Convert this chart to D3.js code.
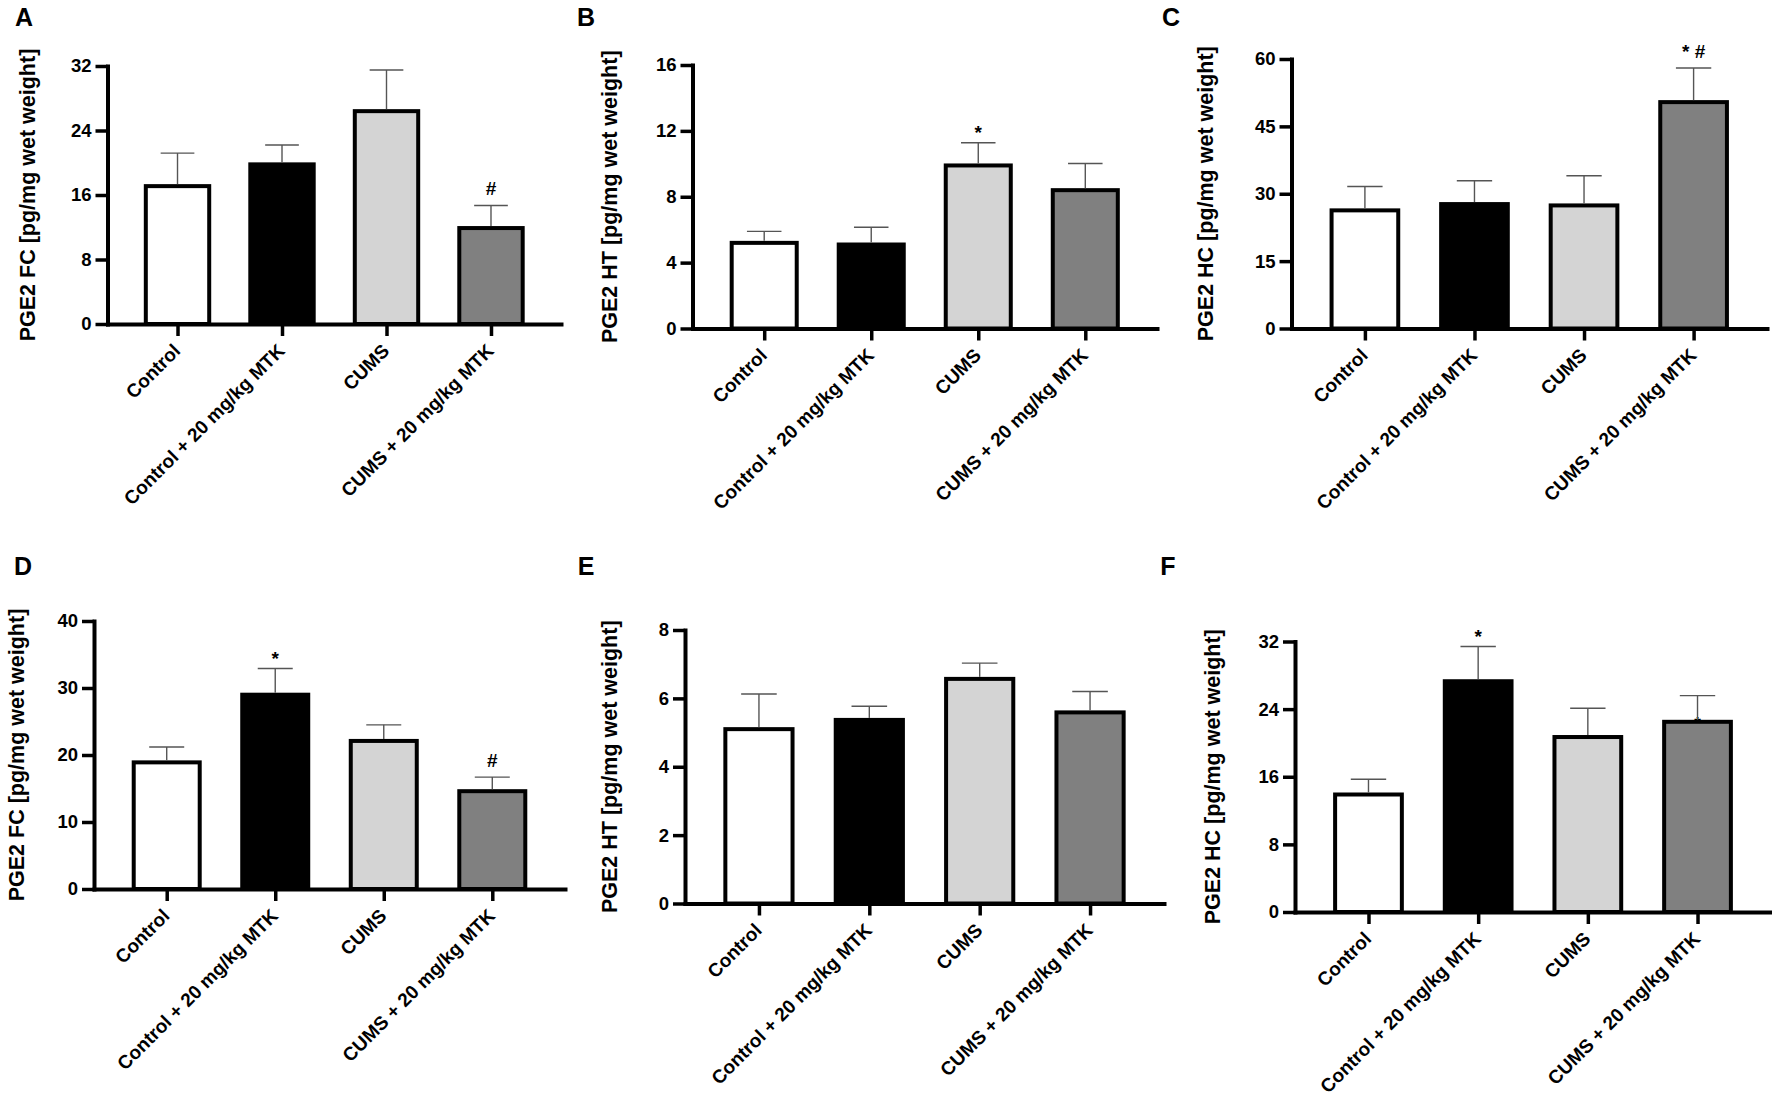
<!DOCTYPE html>
<html>
<head>
<meta charset="utf-8">
<title>PGE2 levels</title>
<script src="https://cdn.jsdelivr.net/npm/d3@7"></script>
<style>
body { margin: 0; background: #fff; }
svg { display: block; font-family: "Liberation Sans", Arial, Helvetica, sans-serif; font-weight: bold; }
</style>
</head>
<body>
<svg id="fig" width="1772" height="1107"></svg>
<script>
// groups on the x axis, same for every panel
var groups = ['Control', 'Control + 20 mg/kg MTK', 'CUMS', 'CUMS + 20 mg/kg MTK'];

// top row: A (FC), B (HT), C (HC)
var meanA = [17.1, 19.8, 26.4, 11.9];
var semA  = [4.1, 2.4, 5.1, 2.8];
var ticksA = [0, 8, 16, 24, 32];
var marksA = ['', '', '', '#'];

var meanB = [5.2, 5.1, 9.9, 8.4];
var semB  = [0.7, 1.05, 1.38, 1.62];
var ticksB = [0, 4, 8, 12, 16];
var marksB = ['', '', '*', ''];

var meanC = [26.3, 27.7, 27.4, 50.4];
var semC  = [5.3, 5.2, 6.6, 7.6];
var ticksC = [0, 15, 30, 45, 60];
var marksC = ['', '', '', '* #'];

// bottom row: D (FC), E (HT), F (HC)
var meanD = [18.9, 29.0, 22.1, 14.6];
var semD  = [2.3, 3.9, 2.4, 2.1];
var ticksD = [0, 10, 20, 30, 40];
var marksD = ['', '*', '', '#'];

var meanE = [5.1, 5.37, 6.57, 5.59];
var semE  = [1.03, 0.4, 0.46, 0.61];
var ticksE = [0, 2, 4, 6, 8];
var marksE = ['', '', '', ''];

var meanF = [13.9, 27.3, 20.7, 22.5];
var semF  = [1.8, 4.1, 3.4, 3.1];
var ticksF = [0, 8, 16, 24, 32];
var marksF = ['', '*', '', ''];
var hiddenF = ['', '', '', '*']; // star half covered by the bar top

var letters = ['A', 'B', 'C', 'D', 'E', 'F'];
var yTitles = ['PGE2 FC [pg/mg wet weight]', 'PGE2 HT [pg/mg wet weight]', 'PGE2 HC [pg/mg wet weight]',
               'PGE2 FC [pg/mg wet weight]', 'PGE2 HT [pg/mg wet weight]', 'PGE2 HC [pg/mg wet weight]'];

var fills = ['#ffffff', '#000000', '#d4d4d4', '#808080'];

// where each panel sits on the page
var layout = [
  { x0: 107.5, x1: 561,  yTop: 66,  yZero: 324,   lx: 24,   ly: 17,  tx: 27 },
  { x0: 692.5, x1: 1157, yTop: 65,  yZero: 328.5, lx: 586,  ly: 17,  tx: 609 },
  { x0: 1291.5,x1: 1767, yTop: 59,  yZero: 328.5, lx: 1171, ly: 17,  tx: 1205 },
  { x0: 94,    x1: 565,  yTop: 621, yZero: 889,   lx: 23,   ly: 566, tx: 16 },
  { x0: 685,   x1: 1164, yTop: 630, yZero: 903.5, lx: 586,  ly: 566, tx: 609 },
  { x0: 1295,  x1: 1771, yTop: 641.5, yZero: 912, lx: 1168, ly: 566, tx: 1212 }
];

var panels = [
  { mean: meanA, sem: semA, ticks: ticksA, marks: marksA, hidden: null },
  { mean: meanB, sem: semB, ticks: ticksB, marks: marksB, hidden: null },
  { mean: meanC, sem: semC, ticks: ticksC, marks: marksC, hidden: null },
  { mean: meanD, sem: semD, ticks: ticksD, marks: marksD, hidden: null },
  { mean: meanE, sem: semE, ticks: ticksE, marks: marksE, hidden: null },
  { mean: meanF, sem: semF, ticks: ticksF, marks: marksF, hidden: hiddenF }
];

var svg = d3.select('#fig');

var drawPanel = function(p, L, i) {
  var g = svg.append('g');
  var x = d3.scalePoint().domain(groups).range([L.x0, L.x1]).padding(0.67);
  var y = d3.scaleLinear().domain([0, d3.max(p.ticks)]).range([L.yZero, L.yTop]);
  var outer = x.step() * 0.645;
  var bw = outer - 4;

  // marks that sit under the bar border (drawn first so the bar hides part of them)
  if (p.hidden) {
    g.selectAll('text.hid').data(p.hidden).enter().append('text')
      .attr('x', function(d, k) { return x(groups[k]); })
      .attr('y', function(d, k) { return y(p.mean[k]) + 7; })
      .attr('text-anchor', 'middle')
      .style('font-size', '17px')
      .text(function(d) { return d; });
  }

  // bars
  g.selectAll('rect.bar').data(p.mean).enter().append('rect')
    .attr('x', function(d, k) { return x(groups[k]) - bw / 2; })
    .attr('y', function(d) { return y(d); })
    .attr('width', bw)
    .attr('height', function(d) { return y(0) - y(d); })
    .attr('fill', function(d, k) { return fills[k]; })
    .attr('stroke', '#000')
    .attr('stroke-width', 4);

  // error bars (upper only)
  var err = g.selectAll('g.err').data(p.mean).enter().append('g');
  err.append('line')
    .attr('x1', function(d, k) { return x(groups[k]); })
    .attr('x2', function(d, k) { return x(groups[k]); })
    .attr('y1', function(d) { return y(d) - 2; })
    .attr('y2', function(d, k) { return y(d + p.sem[k]); });
  err.append('line')
    .attr('x1', function(d, k) { return x(groups[k]) - outer * 0.25; })
    .attr('x2', function(d, k) { return x(groups[k]) + outer * 0.25; })
    .attr('y1', function(d, k) { return y(d + p.sem[k]); })
    .attr('y2', function(d, k) { return y(d + p.sem[k]); });
  err.selectAll('line').attr('stroke', '#555').attr('stroke-width', 1.4);

  // significance marks above the caps
  g.selectAll('text.mark').data(p.marks).enter().append('text')
    .attr('x', function(d, k) { return x(groups[k]); })
    .attr('y', function(d, k) {
      return y(p.mean[k] + p.sem[k]) - (d.indexOf('#') >= 0 ? 10 : 4);
    })
    .attr('text-anchor', 'middle')
    .style('font-size', '19px')
    .text(function(d) { return d; });

  // axes
  var yAxis = d3.axisLeft(y).tickValues(p.ticks).tickSize(12).tickSizeOuter(0).tickPadding(4);
  var ya = g.append('g').attr('transform', 'translate(' + L.x0 + ',0)').call(yAxis);
  var xAxis = d3.axisBottom(x).tickSize(12).tickSizeOuter(0).tickFormat('');
  var xa = g.append('g').attr('transform', 'translate(0,' + L.yZero + ')').call(xAxis);

  [ya, xa].forEach(function(a) {
    a.attr('font-family', null).attr('font-size', null);
    a.select('.domain').attr('stroke', '#000').attr('stroke-width', 4).attr('stroke-linecap', 'square');
    a.selectAll('.tick line').attr('stroke', '#000').attr('stroke-width', 3.5);
  });
  ya.selectAll('.tick text').attr('fill', '#000').style('font-size', '18.5px');

  // rotated group names, text ends just right of the tick
  g.selectAll('text.cat').data(groups).enter().append('text')
    .attr('transform', function(d) {
      return 'translate(' + (x(d) + 4) + ',' + (L.yZero + 28) + ') rotate(-45)';
    })
    .attr('text-anchor', 'end')
    .style('font-size', '19px')
    .text(function(d) { return d; });

  // y title
  g.append('text')
    .attr('transform', 'translate(' + L.tx + ',' + ((L.yTop + L.yZero) / 2) + ') rotate(-90)')
    .attr('text-anchor', 'middle')
    .attr('dy', '0.35em')
    .style('font-size', '21.5px')
    .text(yTitles[i]);

  // panel letter
  g.append('text')
    .attr('x', L.lx)
    .attr('y', L.ly)
    .attr('dy', '0.35em')
    .attr('text-anchor', 'middle')
    .style('font-size', '25px')
    .text(letters[i]);
};

panels.forEach(function(p, i) { drawPanel(p, layout[i], i); });
</script>
</body>
</html>
